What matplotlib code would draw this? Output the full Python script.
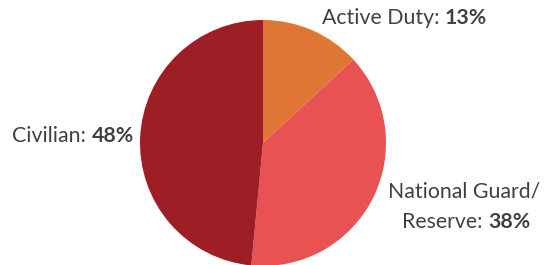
import matplotlib
matplotlib.use("Agg")
import matplotlib.pyplot as plt

categories = ["Active Duty", "National Guard/\nReserve", "Civilian"]
values = [13, 38, 48]
colors = ["#E07634", "#E85252", "#9E1E26"]

W, H = 545, 265
fig = plt.figure(figsize=(W / 100, H / 100), dpi=100)
cx, cy, r = 263, 143, 123
ax = fig.add_axes([(cx - r) / W, (H - cy - r) / H, 2 * r / W, 2 * r / H])
ax.pie(values, colors=colors, startangle=90, counterclock=False,
       wedgeprops=dict(linewidth=0))
ax.set_aspect("equal")
ax.set_xlim(-1, 1)
ax.set_ylim(-1, 1)
ax.axis("off")

font = "Lato"
fs = 15.3
tc = "#404040"

fig.canvas.draw()
renderer = fig.canvas.get_renderer()

def label(x, y, name, pct):
    t1 = fig.text(x / W, 1 - y / H, name + ": ", fontsize=fs, color=tc,
                  family=font, va="center", ha="left")
    bb = t1.get_window_extent(renderer)
    fig.text(bb.x1 / W, 1 - y / H, f"{pct}%", fontsize=fs, color=tc,
             family=font, weight="bold", va="center", ha="left")

label(322, 18, categories[0], values[0])
label(12, 136, categories[2], values[2])
fig.text(388 / W, 1 - 192 / H, "National Guard/", fontsize=fs, color=tc,
         family=font, va="center", ha="left")
label(402, 222, "Reserve", values[1])

fig.savefig("out.png", dpi=100)
